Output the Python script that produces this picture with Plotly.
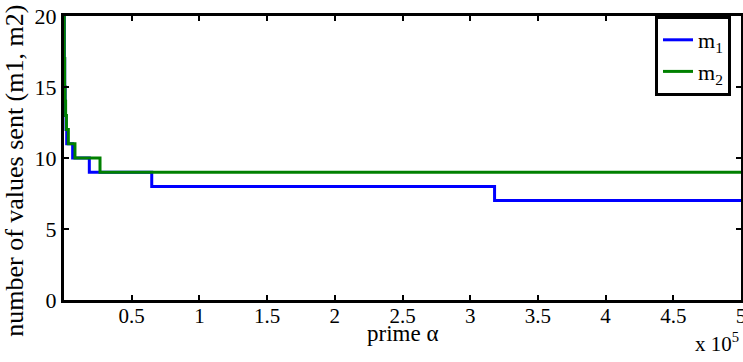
import plotly.graph_objects as go

# Step data (x = prime alpha, y = number of values sent)
m1_x = [2, 200, 500, 800, 1100, 1500, 2000, 6400, 18700, 64800, 318000, 500000]
m1_y = [20, 17, 15, 14, 13, 12, 11, 10, 9, 8, 7, 7]

m2_x = [2, 200, 500, 800, 1200, 1800, 3200, 8100, 26600, 500000]
m2_y = [20, 17, 15, 14, 13, 12, 11, 10, 9, 9]

x_tickvals = [50000, 100000, 150000, 200000, 250000, 300000, 350000, 400000, 450000, 500000]
x_ticktext = ["0.5", "1", "1.5", "2", "2.5", "3", "3.5", "4", "4.5", "5"]
y_tickvals = [0, 5, 10, 15, 20]

FONT = "Liberation Serif, Times New Roman, serif"

fig = go.Figure()
fig.add_trace(go.Scatter(x=m1_x, y=m1_y, mode="lines", line=dict(color="#0000FF", width=3, shape="hv"),
                         name="m<sub>1</sub>"))
fig.add_trace(go.Scatter(x=m2_x, y=m2_y, mode="lines", line=dict(color="#008000", width=3, shape="hv"),
                         name="m<sub>2</sub>"))

fig.update_layout(
    width=743, height=362,
    margin=dict(l=64, r=2, t=16, b=62, autoexpand=False),
    plot_bgcolor="white", paper_bgcolor="white",
    font=dict(family=FONT, size=21, color="black"),
    showlegend=True,
    legend=dict(x=0.873, y=1.0, xanchor="left", yanchor="top",
                bgcolor="white", bordercolor="black", borderwidth=3,
                font=dict(family=FONT, size=22), tracegroupgap=0, itemwidth=30),
    xaxis=dict(range=[2, 500000], tickvals=x_tickvals, ticktext=x_ticktext,
               ticks="inside", ticklen=5, tickwidth=2, tickcolor="black",
               showline=True, linecolor="black", linewidth=3, mirror="ticks",
               showgrid=False, zeroline=False, automargin=False,
               ticklabeloverflow="allow", ticklabelstandoff=-5,
               tickfont=dict(family=FONT, size=21)),
    yaxis=dict(range=[0, 20], tickvals=y_tickvals,
               ticks="inside", ticklen=5, tickwidth=2, tickcolor="black",
               showline=True, linecolor="black", linewidth=3, mirror="ticks",
               showgrid=False, zeroline=False, automargin=False,
               ticklabeloverflow="allow",
               tickfont=dict(family=FONT, size=22)),
)

# axis titles
fig.add_annotation(text="prime α", xref="paper", yref="paper", x=0.5, y=-0.118,
                   xanchor="center", yanchor="middle", showarrow=False,
                   font=dict(family=FONT, size=23))
fig.add_annotation(text="number of values sent (m1, m2)", xref="paper", yref="paper",
                   x=-0.0724, y=0.455, xanchor="center", yanchor="middle", textangle=-90,
                   showarrow=False, font=dict(family=FONT, size=26))
fig.add_annotation(text="x 10<sup>5</sup>", xref="paper", yref="paper", x=1.0, y=-0.204,
                   xanchor="right", yanchor="bottom", showarrow=False,
                   font=dict(family=FONT, size=21))

fig.write_html("out.html", config={"displayModeBar": False},
               post_script="document.body.style.margin='0px';document.body.style.overflow='hidden';")
